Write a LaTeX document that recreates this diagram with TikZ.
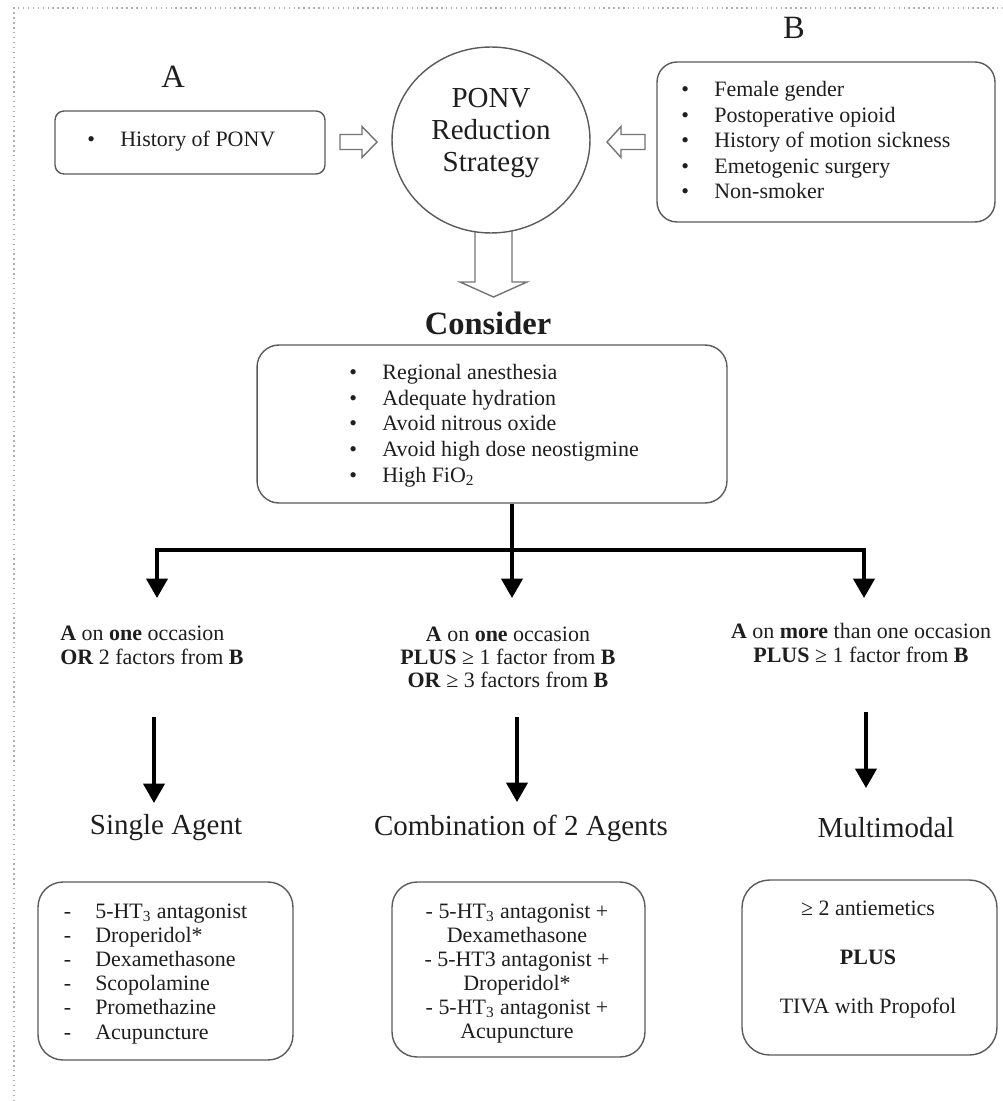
\documentclass[tikz,border=0pt]{standalone}
\usepackage{fontspec}
\setmainfont{Liberation Serif}
\usetikzlibrary{arrows.meta,shapes.geometric,calc}
\definecolor{boxgray}{HTML}{5A5A5A}
\definecolor{txtc}{HTML}{1E1E1E}
\definecolor{dotgray}{HTML}{B0B0B0}
\newcommand\bul{\makebox[18.8pt][l]{\textbullet}}
\newcommand\dsh{\makebox[17.9pt][l]{-}}
\begin{document}
\begin{tikzpicture}[x=0.02cm,y=-0.02cm,
  boxst/.style={draw=boxgray, line width=0.8pt, inner sep=0pt},
  txt/.style={inner sep=0pt, text=txtc, font=\fontsize{12.5}{14.6}\selectfont},
  crit/.style={txt, font=\fontsize{12.5}{13.2}\selectfont},
  head/.style={inner sep=0pt, text=txtc, font=\fontsize{16.5}{18}\selectfont},
  lab/.style={inner sep=0pt, text=txtc, font=\fontsize{18.5}{20}\selectfont},
  arr/.style={line width=2pt, draw=black, line join=miter, -{Triangle[width=12pt,length=11pt]}},
  blk/.style={draw=boxgray!85, line width=0.8pt, fill=white, line join=miter}
]
\useasboundingbox (0,0) rectangle (1002,1101);
% dotted frame
\draw[dotgray, dotted, line width=0.8pt] (14,1101) -- (14,8) -- (1002,8);

% labels
\node[lab] (labA) at (173,77) {A};
\node[lab] (labB) at (794,28) {B};

% box A
\node[boxst, rounded corners=0.18cm, minimum width=5.4cm, minimum height=1.26cm] (boxA) at (190,142.5) {};
\node[txt, anchor=base west, align=left] (listA) at (87,147) {\bul History of PONV};

% box B
\node[boxst, rounded corners=0.4cm, minimum width=6.76cm, minimum height=3.2cm] (boxB) at (826,142) {};
\node[txt, anchor=base west, align=left] (listB) at (681,199)
  {\bul Female gender\\\bul Postoperative opioid\\\bul History of motion sickness\\\bul Emetogenic surgery\\\bul Non-smoker};

% down block arrow (drawn before circle)
\draw[blk, fill=none] (475,231) -- (475,282) -- (460,282) -- (493.5,297) -- (527,282) -- (512,282) -- (512,231);

% circle
\node[boxst, ellipse, minimum width=3.96cm, minimum height=3.72cm] (circ) at (491,140) {};
\node[head, align=center, font=\fontsize{16.5}{18.2}\selectfont] (ctext) at (491,133) {PONV\\Reduction\\Strategy};

% side block arrows
\draw[blk] (340,134.5) -- (362,134.5) -- (362,126.5) -- (377,142) -- (362,157.5) -- (362,149.5) -- (340,149.5) -- cycle;
\draw[blk] (645,134.5) -- (621,134.5) -- (621,126.5) -- (607,142) -- (621,157.5) -- (621,149.5) -- (645,149.5) -- cycle;

% consider
\node[lab, font=\bfseries\fontsize{18.5}{20}\selectfont] (consider) at (488,323) {Consider};
\node[boxst, rounded corners=0.44cm, minimum width=9.4cm, minimum height=3.16cm] (consbox) at (492,424) {};
\node[txt, anchor=base west, align=left] (listC) at (349,482)
  {\bul Regional anesthesia\\\bul Adequate hydration\\\bul Avoid nitrous oxide\\\bul Avoid high dose neostigmine\\\bul High FiO\textsubscript{2}};

% branching arrows
\coordinate (bj) at (512,550);
\coordinate (t1) at (157,598);
\coordinate (t2) at (512,598);
\coordinate (t3) at (864,598);
\draw[arr] (bj) -| (t1);
\draw[arr] (bj) -| (t3);
\draw[arr] (consbox.south -| bj) -- (t2);

% criteria
\node[crit, anchor=base west, align=left] (crit1) at (60,664)
  {\textbf{A} on \textbf{one} occasion\\\textbf{OR} 2 factors from \textbf{B}};
\node[crit, anchor=base, align=center] (crit2) at (508,687.5)
  {\textbf{A} on \textbf{one} occasion\\\textbf{PLUS} ≥ 1 factor from \textbf{B}\\\textbf{OR} ≥ 3 factors from \textbf{B}};
\node[crit, anchor=base, align=center] (crit3) at (861,662)
  {\textbf{A} on \textbf{more} than one occasion\\\textbf{PLUS} ≥ 1 factor from \textbf{B}};

% second arrows
\coordinate (s1) at (154,717); \coordinate (e1) at (154,803);
\coordinate (s2) at (517,717); \coordinate (e2) at (517,802);
\coordinate (s3) at (866,712); \coordinate (e3) at (866,788);
\draw[arr] (s1) -- (e1);
\draw[arr] (s2) -- (e2);
\draw[arr] (s3) -- (e3);

% headings
\node[head] (h1) at (166,828) {Single Agent};
\node[head] (h2) at (521,828) {Combination of 2 Agents};
\node[head] (h3) at (886,828) {Multimodal};

% bottom boxes
\node[boxst, rounded corners=0.5cm, minimum width=5.1cm, minimum height=3.56cm] (box1) at (165.5,971) {};
\node[txt, anchor=base west, align=left, font=\fontsize{12.5}{13.7}\selectfont] (list1) at (63.5,1039)
  {\dsh 5-HT\textsubscript{3} antagonist\\\dsh Droperidol*\\\dsh Dexamethasone\\\dsh Scopolamine\\\dsh Promethazine\\\dsh Acupuncture};

\node[boxst, rounded corners=0.5cm, minimum width=5.06cm, minimum height=3.5cm] (box2) at (518.5,969.5) {};
\node[txt, anchor=base, align=center, font=\fontsize{12.5}{13.6}\selectfont] (list2) at (517,1038)
  {- 5-HT\textsubscript{3} antagonist +\\Dexamethasone\\- 5-HT3 antagonist +\\Droperidol*\\- 5-HT\textsubscript{3} antagonist +\\Acupuncture};

\node[boxst, rounded corners=0.55cm, minimum width=5.1cm, minimum height=3.5cm] (box3) at (869.5,967.5) {};
\node[txt, anchor=base, align=center, font=\fontsize{12.5}{27.8}\selectfont] (list3) at (868,1013)
  {≥ 2 antiemetics\\\textbf{PLUS}\\TIVA with Propofol};
\end{tikzpicture}
\end{document}
